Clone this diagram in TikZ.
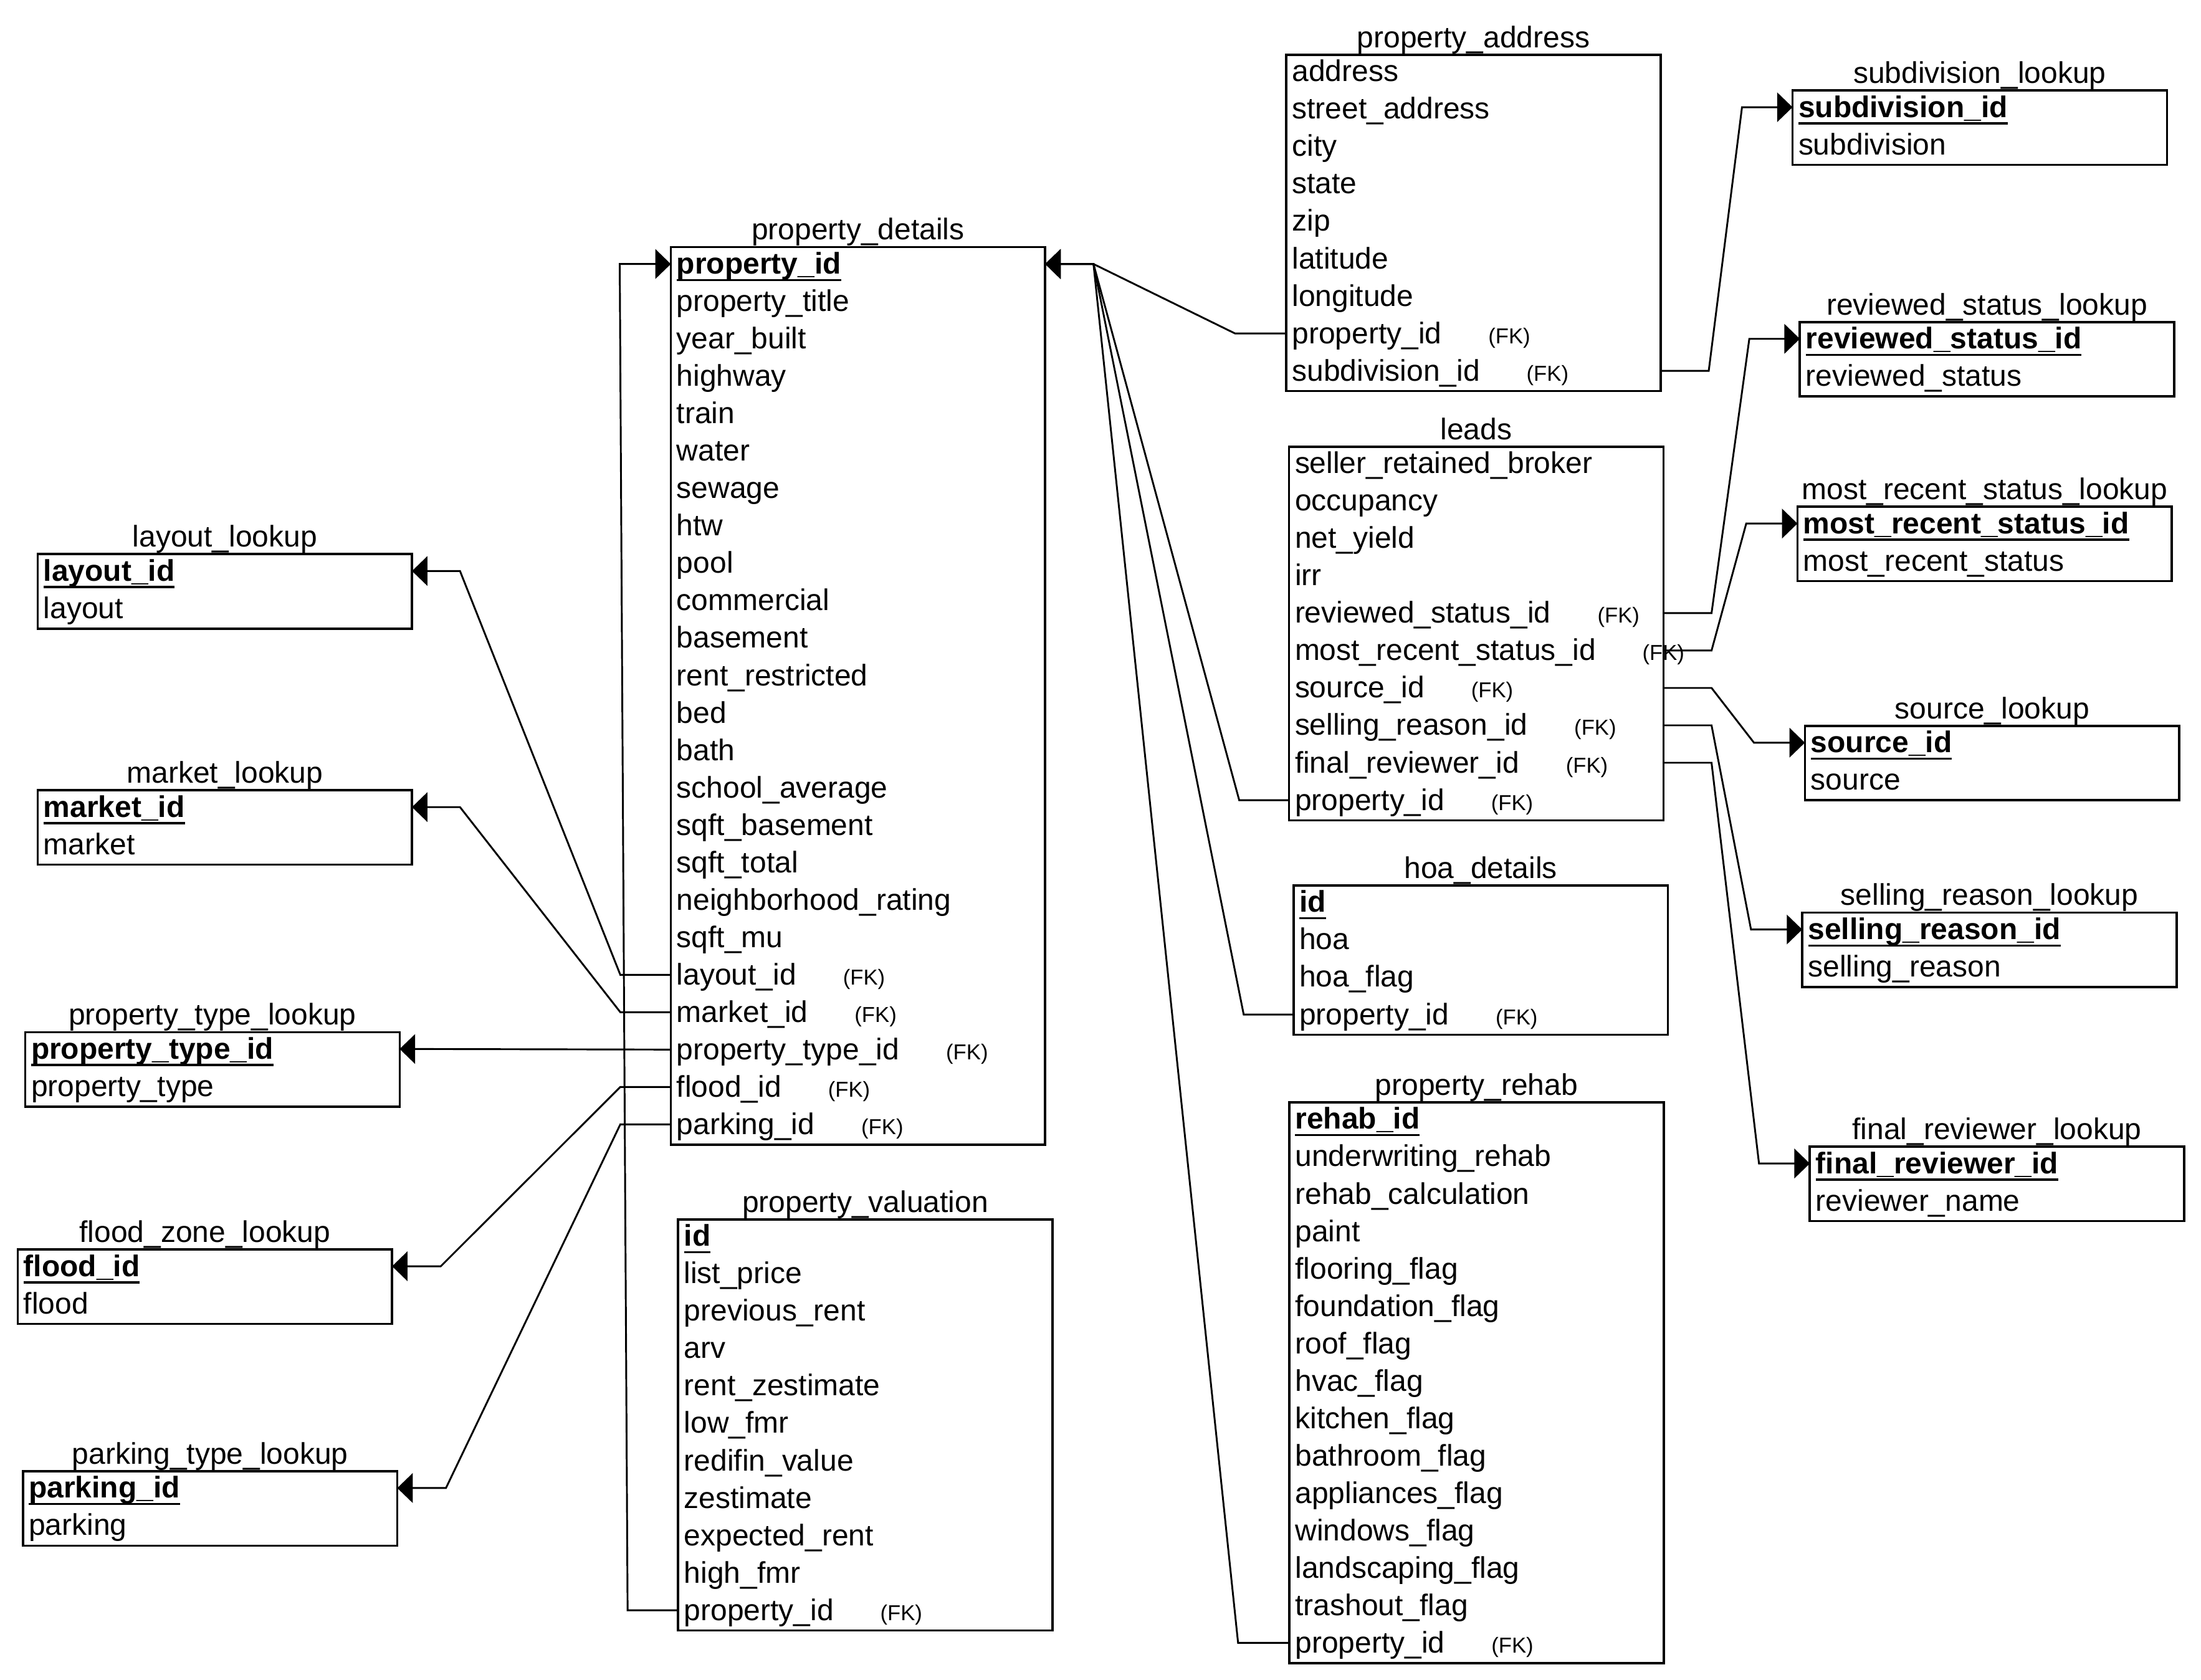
\documentclass[tikz,border=0pt]{standalone}
\usepackage{fontspec}
\setmainfont{Liberation Sans}
\usetikzlibrary{arrows.meta,calc}
\newcommand\pkey[1]{\setbox0\hbox{\bfseries #1}\rlap{\rule[-0.24em]{\wd0}{0.07em}}\box0}
\newcommand\fkey[1]{#1\hspace{16.6pt}{\fontsize{7.7}{9}\selectfont (FK)}}
\newcommand\ertable[6]{%
  \pgfmathsetmacro\erh{0.5*(26.4+(#4-1)*26.65)}%
  \node[tbox, minimum height=\erh pt, anchor=north west] (#1) at (#2,#3) {};
  \node[ttl] (#1-t) at ($(#1.north)+(0,-5.2)$) {#5};
  \foreach \txt [count=\i from 0] in {#6} {
    \node[rowtxt] (#1-\i) at (#2+3.8, #3+19.1+\i*26.65) {\txt};
    \coordinate (#1-\i-L) at (#2, #3+12+\i*26.65);
    \coordinate (#1-\i-R) at (#2+266.7, #3+12+\i*26.65);
  }%
}
\tikzset{
  tbox/.style={draw, line width=0.8pt, minimum width=133.35pt, inner sep=0pt, outer sep=0pt},
  ttl/.style={anchor=base, inner sep=0pt, font=\fontsize{10.65}{12}\selectfont},
  rowtxt/.style={anchor=base west, inner sep=0pt, font=\fontsize{10.65}{12}\selectfont},
  fkline/.style={line width=0.65pt, line join=miter, -{Triangle[length=5.5pt,width=10.5pt]}}
}
\begin{document}
\begin{tikzpicture}[x=0.5pt,y=-0.5pt]
\useasboundingbox (0,0) rectangle (1568,1196.8);

\ertable{pa}{916.3}{39.0}{9}{property\_address}{address, street\_address, city, state, zip, latitude, longitude, \fkey{property\_id}, \fkey{subdivision\_id}}
\ertable{sl}{1277}{64.4}{2}{subdivision\_lookup}{\pkey{subdivision\_id}, subdivision}
\ertable{pd}{477.9}{176.1}{24}{property\_details}{\pkey{property\_id}, property\_title, year\_built, highway, train, water, sewage, htw, pool, commercial, basement, rent\_restricted, bed, bath, school\_average, sqft\_basement, sqft\_total, neighborhood\_rating, sqft\_mu, \fkey{layout\_id}, \fkey{market\_id}, \fkey{property\_type\_id}, \fkey{flood\_id}, \fkey{parking\_id}}
\ertable{rsl}{1282.2}{229.4}{2}{reviewed\_status\_lookup}{\pkey{reviewed\_status\_id}, reviewed\_status}
\ertable{ld}{918.3}{318.2}{10}{leads}{seller\_retained\_broker, occupancy, net\_yield, irr, \fkey{reviewed\_status\_id}, \fkey{most\_recent\_status\_id}, \fkey{source\_id}, \fkey{selling\_reason\_id}, \fkey{final\_reviewer\_id}, \fkey{property\_id}}
\ertable{mrl}{1280.5}{361}{2}{most\_recent\_status\_lookup}{\pkey{most\_recent\_status\_id}, most\_recent\_status}
\ertable{ll}{26.8}{394.8}{2}{layout\_lookup}{\pkey{layout\_id}, layout}
\ertable{src}{1285.8}{517.1}{2}{source\_lookup}{\pkey{source\_id}, source}
\ertable{ml}{26.8}{563}{2}{market\_lookup}{\pkey{market\_id}, market}
\ertable{hoa}{921.5}{630.8}{4}{hoa\_details}{\pkey{id}, hoa, hoa\_flag, \fkey{property\_id}}
\ertable{srl}{1283.9}{650.2}{2}{selling\_reason\_lookup}{\pkey{selling\_reason\_id}, selling\_reason}
\ertable{ptl}{18}{735.3}{2}{property\_type\_lookup}{\pkey{property\_type\_id}, property\_type}
\ertable{rh}{918.5}{785.3}{15}{property\_rehab}{\pkey{rehab\_id}, underwriting\_rehab, rehab\_calculation, paint, flooring\_flag, foundation\_flag, roof\_flag, hvac\_flag, kitchen\_flag, bathroom\_flag, appliances\_flag, windows\_flag, landscaping\_flag, trashout\_flag, \fkey{property\_id}}
\ertable{frl}{1289.3}{816.9}{2}{final\_reviewer\_lookup}{\pkey{final\_reviewer\_id}, reviewer\_name}
\ertable{pv}{483.1}{868.7}{11}{property\_valuation}{\pkey{id}, list\_price, previous\_rent, arv, rent\_zestimate, low\_fmr, redifin\_value, zestimate, expected\_rent, high\_fmr, \fkey{property\_id}}
\ertable{fl}{12.6}{890.1}{2}{flood\_zone\_lookup}{\pkey{flood\_id}, flood}
\ertable{pkl}{16.3}{1048.1}{2}{parking\_type\_lookup}{\pkey{parking\_id}, parking}

% left side connectors
\draw[fkline] (pv-10-L) -- ++(-36,0) -- ($(pd-0-L)+(-36.4,0)$) -- (pd-0-L);
\draw[fkline] (pd-19-L) -- ++(-36,0) -- ($(ll-0-R)+(34.2,0)$) -- (ll-0-R);
\draw[fkline] (pd-20-L) -- ++(-36,0) -- ($(ml-0-R)+(34.2,0)$) -- (ml-0-R);
\draw[fkline] (pd-21-L) -- (ptl-0-R);
\draw[fkline] (pd-22-L) -- ++(-36,0) -- ($(fl-0-R)+(34.7,0)$) -- (fl-0-R);
\draw[fkline] (pd-23-L) -- ++(-36,0) -- ($(pkl-0-R)+(34.7,0)$) -- (pkl-0-R);

% fan into property_details
\draw[fkline] (pa-7-L) -- ++(-36.5,0) -- ($(pd-0-R)+(34.4,0)$) -- (pd-0-R);
\draw[fkline] (ld-9-L) -- ++(-35.5,0) -- ($(pd-0-R)+(34.4,0)$) -- (pd-0-R);
\draw[fkline] (hoa-3-L) -- ++(-35.5,0) -- ($(pd-0-R)+(34.4,0)$) -- (pd-0-R);
\draw[fkline] (rh-14-L) -- ++(-36.5,0) -- ($(pd-0-R)+(34.4,0)$) -- (pd-0-R);

% right side connectors
\draw[fkline] (pa-8-R) -- ++(34.3,0) -- ($(sl-0-L)+(-36,0)$) -- (sl-0-L);
\draw[fkline] (ld-4-R) -- ++(34.3,0) -- ($(rsl-0-L)+(-36,0)$) -- (rsl-0-L);
\draw[fkline] (ld-5-R) -- ++(34.3,0) -- ($(mrl-0-L)+(-36.5,0)$) -- (mrl-0-L);
\draw[fkline] (ld-6-R) -- ++(34.3,0) -- ($(src-0-L)+(-36.3,0)$) -- (src-0-L);
\draw[fkline] (ld-7-R) -- ++(34.3,0) -- ($(srl-0-L)+(-36.5,0)$) -- (srl-0-L);
\draw[fkline] (ld-8-R) -- ++(34.3,0) -- ($(frl-0-L)+(-36.2,0)$) -- (frl-0-L);
\end{tikzpicture}
\end{document}
